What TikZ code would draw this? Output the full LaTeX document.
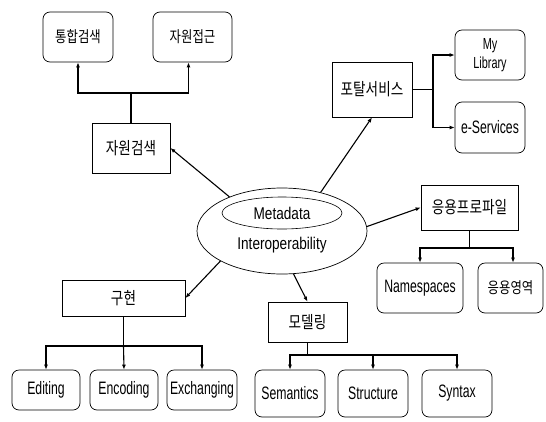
\documentclass[tikz,border=0pt]{standalone}
\usepackage{fontspec}
\setmainfont{Liberation Sans}[FakeStretch=0.68]
\newfontfamily\kr{Noto Sans CJK KR}[FakeStretch=0.8]
\newfontfamily\elf{Liberation Sans}[FakeStretch=0.8]
\usetikzlibrary{shapes.geometric,arrows.meta}
\begin{document}
\begin{tikzpicture}[x=1pt,y=-1pt,
  sqbox/.style={draw, line width=0.7pt, inner sep=0pt},
  rbox/.style={draw, line width=0.7pt, rounded corners=7pt, inner sep=0pt},
  kbig/.style={font=\kr\fontsize{17}{19}\selectfont},
  ksmall/.style={font=\kr\fontsize{15.5}{18}\selectfont},
  lfont/.style={font=\fontsize{18}{20}\selectfont},
  lsmall/.style={font=\fontsize{16}{19}\selectfont},
  efont/.style={font=\elf\fontsize{17}{19}\selectfont},
  conn/.style={line width=1.1pt},
  arr/.style={conn, -{Latex[length=5pt,width=4pt]}}]
\useasboundingbox[fill=white] (0,0) rectangle (546,421);

% centre
\node[ellipse, draw, line width=0.7pt, minimum width=170, minimum height=86, inner sep=0pt] (el) at (282,231) {};
\node[ellipse, draw, line width=0.6pt, minimum width=120, minimum height=32, inner sep=0pt, efont] (ie) at (282,213) {Metadata};
\node[efont, inner sep=0pt] (io) at (282,245) {Interoperability};

% first level
\node[sqbox, kbig, minimum width=78, minimum height=50] (jw) at (131,148) {자원검색};
\node[sqbox, kbig, minimum width=80, minimum height=55] (ps) at (372,89.5) {포탈서비스};
\node[sqbox, kbig, minimum width=97, minimum height=45] (ap) at (469.5,207.5) {응용프로파일};
\node[sqbox, kbig, minimum width=123, minimum height=36] (gh) at (123.5,298) {구현};
\node[sqbox, kbig, minimum width=79, minimum height=40] (md) at (307.5,322) {모델링};

% leaves
\node[rbox, ksmall, minimum width=70, minimum height=50] (th) at (78,37) {통합검색};
\node[rbox, ksmall, minimum width=79, minimum height=50] (jj) at (192.5,37) {자원접근};
\node[rbox, lsmall, minimum width=70, minimum height=50, align=center] (ml) at (490,55) {My\\Library};
\node[rbox, lfont, minimum width=70, minimum height=51] (es) at (490,127.5) {e-Services};
\node[rbox, lfont, minimum width=86, minimum height=50] (ns) at (420,288) {Namespaces};
\node[rbox, ksmall, minimum width=65, minimum height=50] (ua) at (510.5,288) {응용영역};
\node[rbox, lfont, minimum width=68, minimum height=40] (ed) at (46,390) {Editing};
\node[rbox, lfont, minimum width=68, minimum height=40] (en) at (124,390) {Encoding};
\node[rbox, lfont, minimum width=70, minimum height=40] (ex) at (202,390) {Exchanging};
\node[rbox, lfont, minimum width=70, minimum height=47] (se) at (290,393.5) {Semantics};
\node[rbox, lfont, minimum width=70, minimum height=47] (st) at (373,393.5) {Structure};
\node[rbox, lfont, minimum width=70, minimum height=47] (sy) at (457,393.5) {Syntax};

% centre connectors
\draw[arr] (el.147) -- (jw.east);
\draw[arr] (el.45) -- (ps.south);
\draw[arr] (el.3) -- (ap.west);
\draw[arr] (el.206) -- (gh.east);
\draw[arr] (el.285) -- (md.north);

% trees
\coordinate (jwj) at (131,93);
\draw[conn] (jw.north) -- (jwj);
\draw[arr] (jwj) -| (th.south);
\draw[arr] (jwj) -| ([xshift=-4pt]jj.south);

\coordinate (psj) at (433,89.5);
\draw[conn] (ps.east) -- (psj);
\draw[arr] (psj) |- (ml.west);
\draw[arr] (psj) |- (es.west);

\coordinate (apj) at (469.5,248);
\draw[conn] (ap.south) -- (apj);
\draw[arr] (apj) -| (ns.north);
\draw[arr] (apj) -| ([xshift=2.5pt]ua.north);

\coordinate (ghj) at (123.5,346);
\draw[conn] (gh.south) -- (ghj);
\draw[arr] (ghj) -| (ed.north);
\draw[arr] (ghj) -- (en.north);
\draw[arr] (ghj) -| (ex.north);

\coordinate (mdj) at (307.5,355);
\draw[conn] (md.south) -- (mdj);
\draw[arr] (mdj) -| (se.north);
\draw[arr] (mdj) -| (st.north);
\draw[arr] (mdj) -| (sy.north);
\end{tikzpicture}
\end{document}
